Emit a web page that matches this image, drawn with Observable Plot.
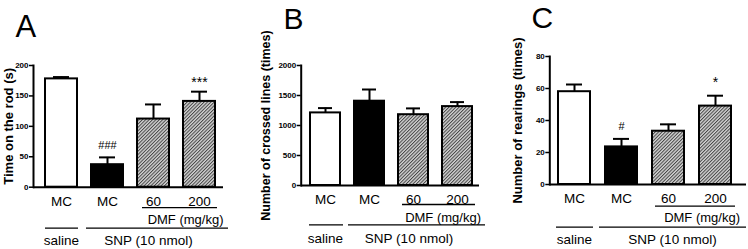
<!DOCTYPE html>
<html><head><meta charset="utf-8">
<script src="https://cdn.jsdelivr.net/npm/d3@7"></script>
<script src="https://cdn.jsdelivr.net/npm/@observablehq/plot@0.6"></script>
<style>
html,body{margin:0;padding:0;background:#fff;}
#wrap{position:relative;width:748px;height:249px;overflow:hidden;}
#wrap svg{position:absolute;top:0;}
</style></head><body><div id="wrap"></div>
<script>
// ---- data ----
const groupKeys = ["saline-MC", "SNP-MC", "SNP-DMF60", "SNP-DMF200"];
const groupKinds = ["saline", "SNP", "DMF", "DMF"];
const tickLabels = ["MC", "MC", "60", "200"];

const rodMean = [178, 37, 112, 141];
const rodSem  = [3, 12, 24, 16];
const rodSig  = ["", "###", "", "***"];
const rodTicks = [0, 50, 100, 150, 200];
const rodTitle = "Time on the rod (s)";

const linesMean = [1210, 1405, 1180, 1315];
const linesSem  = [80, 195, 105, 75];
const linesSig  = ["", "", "", ""];
const linesTicks = [0, 500, 1000, 1500, 2000];
const linesTitle = "Number of crossed lines (times)";

const rearMean = [58, 23.5, 33.3, 49];
const rearSem  = [4.5, 5, 4.3, 6.5];
const rearSig  = ["", "#", "", "*"];
const rearTicks = [0, 20, 40, 60, 80];
const rearTitle = "Number of rearings (times)";

const panelLetters = ["A", "B", "C"];
const salineSpan = [{from: "saline-MC", to: "saline-MC", label: "saline", key: "saline-MC"}];
const snpSpan = [{from: "SNP-MC", to: "SNP-DMF200", label: "SNP (10 nmol)", key: "SNP-DMF60"}];
const dmfSpan = [{from: "SNP-DMF60", to: "SNP-DMF200", label: "DMF (mg/kg)", key: "SNP-DMF200"}];

function buildRows(means, sems, sigs) {
  return groupKeys.map((k, i) => ({key: k, kind: groupKinds[i], mean: means[i], sem: sems[i], top: means[i] + sems[i], sig: sigs[i]}));
}

// ---- layout (positions / styles) ----
const layouts = [
  {left:0, width:250, mL:33, mR:27, mT:65, mB:62.3, pi:0.307, po:0.211, align:0.59, titleDx:-25, titleSize:13, letterSize:31, letterDx:-18, letterDy:-29, hashDy:-12, starDy:-9, tickPad:9.2, dmfLineDy:20.5, dmfTextDy:32.2, grpLineDy:41, grpTextDy:53.8, dmfIn:[5,-2], dmfTextDx:24, salIn:[0,-1], snpIn:[-5,-13], snpTextDx:-5},
  {left:250, width:250, mL:50.7, mR:21, mT:65, mB:64, pi:0.31, po:0.14, align:0.6, titleDx:-35, titleSize:12.5, letterSize:30, letterDx:-17.7, letterDy:-37, hashDy:-12, starDy:-9, tickPad:8.6, dmfLineDy:19, dmfTextDy:32.2, grpLineDy:39.3, grpTextDy:53.2, dmfIn:[4,-3], dmfTextDx:23.5, salIn:[-1,-3], snpIn:[-6,-13], snpTextDx:-4.5},
  {left:498, width:250, mL:51.3, mR:2, mT:56, mB:65, pi:0.329, po:0.2275, align:0.34, titleDx:-32.3, titleSize:13, letterSize:30, letterDx:-18.3, letterDy:-29, hashDy:-12.5, starDy:-13, tickPad:8.6, dmfLineDy:21.7, dmfTextDy:33.2, grpLineDy:42.7, grpTextDy:54.8, dmfIn:[3,-4], dmfTextDx:24.5, salIn:[-2,-3], snpIn:[-6,-15], snpTextDx:4}
];

const panels = [
  {rows: buildRows(rodMean, rodSem, rodSig), ticks: rodTicks, title: rodTitle},
  {rows: buildRows(linesMean, linesSem, linesSig), ticks: linesTicks, title: linesTitle},
  {rows: buildRows(rearMean, rearSem, rearSig), ticks: rearTicks, title: rearTitle}
];

const FONT = "Arial, 'Liberation Sans', Helvetica, sans-serif";
const wrap = document.getElementById("wrap");

panels.forEach((p, idx) => {
  const L = layouts[idx];
  const ymax = p.ticks[p.ticks.length - 1];
  const chart = Plot.plot({
    width: L.width, height: 249,
    marginLeft: L.mL, marginRight: L.mR, marginTop: L.mT, marginBottom: L.mB,
    style: {fontFamily: FONT, background: "transparent", color: "black", overflow: "visible"},
    x: {domain: groupKeys, paddingInner: L.pi, paddingOuter: L.po, align: L.align},
    y: {domain: [0, ymax]},
    marks: [
      Plot.ruleX(p.rows, {x: "key", y1: "mean", y2: "top", stroke: "black", strokeWidth: 2}),
      Plot.tickY(p.rows, {x: "key", y: "top", stroke: "black", strokeWidth: 2, insetLeft: 8, insetRight: 8}),
      Plot.barY(p.rows, {filter: d => d.kind === "saline", x: "key", y: "mean", fill: "white", stroke: "black", strokeWidth: 2}),
      Plot.barY(p.rows, {filter: d => d.kind === "SNP", x: "key", y: "mean", fill: "black", stroke: "black", strokeWidth: 2}),
      Plot.barY(p.rows, {filter: d => d.kind === "DMF", x: "key", y: "mean", fill: "url(#hatch)", stroke: "black", strokeWidth: 2}),
      Plot.text(p.rows, {filter: d => d.sig.startsWith("#"), x: "key", y: "top", text: "sig", dy: L.hashDy, fontSize: 11, lineAnchor: "middle", fill: "black"}),
      Plot.text(p.rows, {filter: d => d.sig.startsWith("*"), x: "key", y: "top", text: "sig", dy: L.starDy, fontSize: 14, lineAnchor: "middle", fill: "black"}),
      Plot.axisY({ticks: p.ticks, tickFormat: d => String(d), tickSize: 4, tickPadding: 1, fontSize: 8, fontWeight: "bold", label: null, strokeWidth: 1.5}),
      Plot.ruleY([0], {strokeWidth: 2}),
      Plot.frame({anchor: "left", strokeWidth: 2}),
      Plot.axisX({tickSize: 0, tickPadding: L.tickPad, fontSize: 13.5, label: null, tickFormat: k => tickLabels[groupKeys.indexOf(k)]}),
      Plot.ruleY(dmfSpan, {x1: "from", x2: "to", y: 0, dy: L.dmfLineDy, insetLeft: L.dmfIn[0], insetRight: L.dmfIn[1], strokeWidth: 1.3}),
      Plot.text(dmfSpan, {x: "key", y: 0, text: "label", dy: L.dmfTextDy, dx: L.dmfTextDx, textAnchor: "end", lineAnchor: "middle", fontSize: 13}),
      Plot.ruleY(salineSpan, {x1: "from", x2: "to", y: 0, dy: L.grpLineDy, insetLeft: L.salIn[0], insetRight: L.salIn[1], strokeWidth: 1.3}),
      Plot.ruleY(snpSpan, {x1: "from", x2: "to", y: 0, dy: L.grpLineDy, insetLeft: L.snpIn[0], insetRight: L.snpIn[1], strokeWidth: 1.3}),
      Plot.text(salineSpan, {x: "key", y: 0, text: "label", dy: L.grpTextDy, lineAnchor: "middle", fontSize: 13.5}),
      Plot.text(snpSpan, {x: "key", y: 0, text: "label", dy: L.grpTextDy, dx: L.snpTextDx, lineAnchor: "middle", fontSize: 13.5}),
      Plot.text([p.title], {frameAnchor: "left", rotate: -90, dx: L.titleDx, textAnchor: "middle", lineAnchor: "middle", fontWeight: "bold", fontSize: L.titleSize}),
      Plot.text([panelLetters[idx]], {frameAnchor: "top-left", dx: L.letterDx, dy: L.letterDy, textAnchor: "start", lineAnchor: "bottom", fontSize: L.letterSize})
    ]
  });
  const ns = "http://www.w3.org/2000/svg";
  const defs = document.createElementNS(ns, "defs");
  defs.innerHTML = '<pattern id="hatch" patternUnits="userSpaceOnUse" width="2.4" height="2.4" patternTransform="rotate(45)"><rect width="2.4" height="2.4" fill="#d4d4d4"/><line x1="0.5" y1="0" x2="0.5" y2="2.4" stroke="#444" stroke-width="1"/></pattern>';
  chart.insertBefore(defs, chart.firstChild);
  chart.style.left = L.left + "px";
  wrap.appendChild(chart);
});
</script></body></html>
